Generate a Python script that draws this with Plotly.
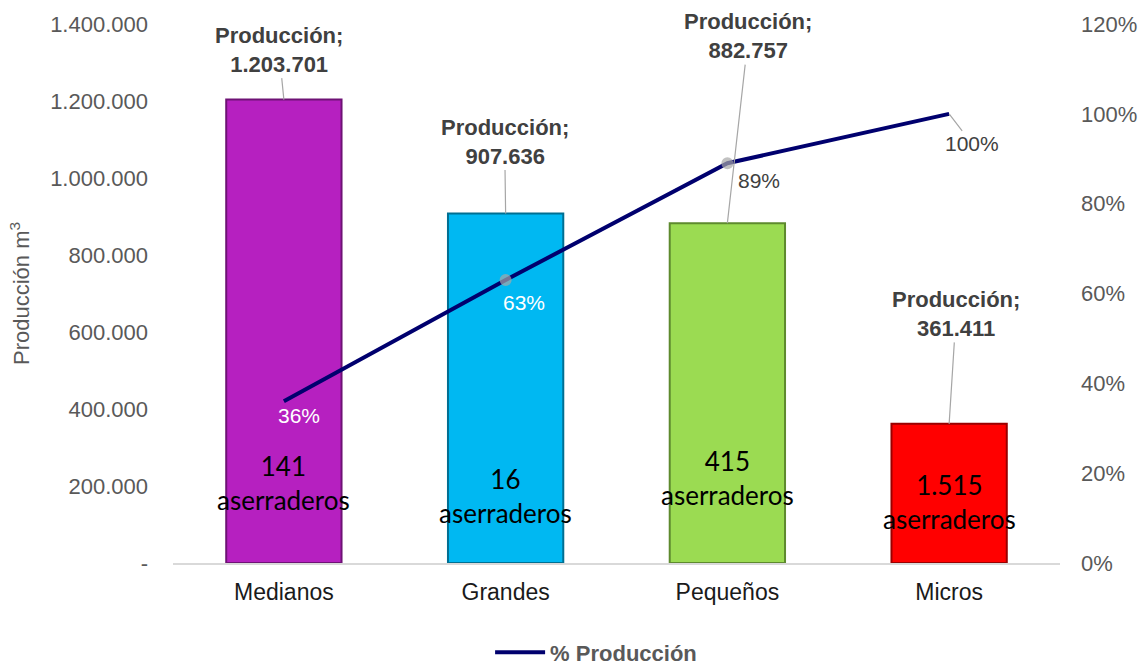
import plotly.graph_objects as go

categorias = ["Medianos", "Grandes", "Pequeños", "Micros"]
produccion = [1203701, 907636, 882757, 361411]
pct_acumulado = [0.36, 0.63, 0.89, 1.00]
aserraderos = ["141", "16", "415", "1.515"]

colores = ["#B620C0", "#00B8F2", "#9BDB52", "#FF0000"]
bordes = ["#6E1275", "#006F92", "#5E8A2E", "#9A0000"]

ticks_izq = [0, 200000, 400000, 600000, 800000, 1000000, 1200000, 1400000]
ticks_der = [0, 0.2, 0.4, 0.6, 0.8, 1.0, 1.2]


def miles(v):
    if v == 0:
        return "-"
    return f"{v:,}".replace(",", ".")


fig = go.Figure()

fig.add_trace(go.Bar(
    x=categorias, y=produccion, name="Producción",
    marker=dict(color=colores, line=dict(color=bordes, width=2)),
    width=0.52, showlegend=False, hoverinfo="skip",
))

fig.add_trace(go.Scatter(
    x=categorias, y=pct_acumulado, name="<b>% Producción</b>", yaxis="y2",
    mode="lines", line=dict(color="#00006E", width=4),
))
# puntos grises (solo en Grandes y Pequeños)
fig.add_trace(go.Scatter(
    x=categorias, y=pct_acumulado, yaxis="y2", mode="markers", showlegend=False,
    marker=dict(size=[0, 12, 12, 0], color="#A6A6A6", line=dict(width=0)),
))

# etiquetas de produccion con linea guia
desplaz = [(-5, -50), (-1, -72), (21, -187), (7, -110)]
for cat, val, (dx, dy) in zip(categorias, produccion, desplaz):
    fig.add_annotation(
        x=cat, y=val, ax=dx, ay=dy,
        text=f"<b>Producción;<br>{miles(val)}</b>",
        showarrow=True, arrowhead=0, arrowwidth=1.2, arrowcolor="#A6A6A6",
        font=dict(size=22, color="#404040", family="Liberation Sans"),
    )

# numero de aserraderos dentro de las barras
ajuste = [80, 67, 85, 61]
for cat, n, ys in zip(categorias, aserraderos, ajuste):
    fig.add_annotation(
        x=cat, y=0, yshift=ys, showarrow=False, yanchor="middle",
        text=f"{n}<br>aserraderos",
        font=dict(size=26, color="#000000", family="Lato"),
    )

# etiquetas de porcentaje
pos_pct = [(15, -14, "white"), (18, -22, "white"), (32, -17, "#404040")]
for cat, p, (dx, dy, c) in zip(categorias, pct_acumulado, pos_pct):
    fig.add_annotation(
        x=cat, y=p, yref="y2", xshift=dx, yshift=dy, showarrow=False,
        text=f"{p:.0%}", font=dict(size=21, color=c, family="Liberation Sans"),
    )
fig.add_annotation(
    x=categorias[3], y=pct_acumulado[3], yref="y2", ax=23, ay=30,
    text=f"{pct_acumulado[3]:.0%}", showarrow=True, arrowhead=0,
    arrowwidth=1.2, arrowcolor="#A6A6A6",
    font=dict(size=21, color="#404040", family="Liberation Sans"),
)

fig.update_layout(
    width=1148, height=667,
    paper_bgcolor="white", plot_bgcolor="white",
    margin=dict(l=173, r=88, t=24, b=104),
    font=dict(family="Liberation Sans", color="#595959"),
    xaxis=dict(
        showline=True, linecolor="#D9D9D9", linewidth=1.5, ticks="",
        tickfont=dict(size=23, color="#1A1A1A"), ticklabelstandoff=8, automargin=False,
    ),
    yaxis=dict(
        range=[0, 1400000], tickvals=ticks_izq, ticktext=[miles(v) for v in ticks_izq],
        showgrid=False, zeroline=False, tickfont=dict(size=22, color="#595959"),
        ticklabelstandoff=24, automargin=False,
        title=dict(text="Producción m<sup>3</sup>", font=dict(size=22, color="#595959"), standoff=14),
    ),
    yaxis2=dict(
        range=[0, 1.2], tickvals=ticks_der, ticktext=[f"{v:.0%}" for v in ticks_der],
        overlaying="y", side="right", showgrid=False, zeroline=False,
        tickfont=dict(size=22, color="#595959"), ticklabelstandoff=20, automargin=False,
    ),
    legend=dict(
        orientation="h", x=0.477, xanchor="center",
        yref="container", y=0.022, yanchor="middle",
        font=dict(size=22, color="#595959", family="Liberation Sans"),
        itemwidth=50,
    ),
)

fig.write_html("out.html", config={"displayModeBar": False},
               post_script="document.body.style.margin='0';")
